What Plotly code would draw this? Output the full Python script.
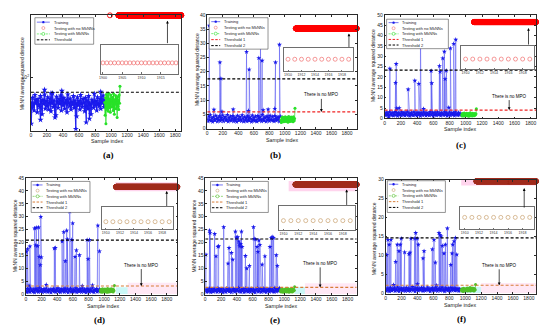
import math
import plotly.graph_objects as go

W, H = 550, 332
FONT = "Liberation Sans, Arial, sans-serif"
SERIF = "Liberation Serif, Times New Roman, serif"

# ======================= DATA =======================
SAMPLE_TICKS = [0, 200, 400, 600, 800, 1000, 1200, 1400, 1600, 1800]
TRAIN_STEP = 10
MKNN_START = 950
MKNN_STEP = 5

# ---- (a) (log scale) ----
a_train = [45, 38, 52, 41, 35, 57, 44, 48, 33, 50,
           42, 39, 55, 46, 31, 49, 43, 58, 37, 47,
           40, 53, 36, 45, 51, 34, 44, 60, 39, 48,
           42, 30, 54, 46, 38, 50, 43, 56, 35, 47,
           41, 52, 37, 45, 49, 33, 58, 44, 40, 51,
           36, 46, 42, 55, 38, 48, 44, 29, 53, 41,
           47, 36, 57, 43, 39, 50, 45, 34, 52, 40,
           48, 37, 55, 44, 42, 31, 49, 46, 38, 59,
           41, 47, 35, 53, 43, 40, 50, 37, 46, 44,
           56, 39, 48, 42, 45]
a_spike_x = [4, 120, 170, 250, 300, 385, 560, 690, 730, 870]
a_spike_y = [23, 26, 67, 60, 28, 65, 19.5, 24, 27, 63]
a_mknn_start = 920
a_mknn = [45, 30, 52, 23, 58, 40, 36, 55, 47, 34, 60, 42, 38, 50, 33, 57, 44, 48, 39, 53,
          41, 35, 59, 46, 31, 49, 43, 56, 37, 51, 45, 28, 54, 40, 48, 36, 57, 44, 75]
a_nomknn_level = 700
a_nomknn_start = 1090
a_nomknn_extra_x = [985]
a_threshold = 62

# ---- (b) ----
b_train = [3.4, 2.6, 4.3, 3.0, 4.8, 2.8, 3.7, 2.4, 4.1, 3.3,
           2.9, 4.6, 3.5, 2.5, 4.0, 3.1, 4.4, 2.7, 3.8, 3.2,
           4.7, 2.6, 3.6, 4.2, 2.9, 3.3, 4.9, 2.5, 3.9, 3.0,
           4.3, 2.8, 3.5, 4.5, 2.6, 3.7, 3.1, 4.0, 2.4, 4.6,
           3.4, 2.9, 4.2, 3.2, 2.7, 4.8, 3.6, 2.5, 4.1, 3.0,
           3.8, 2.6, 4.4, 3.3, 2.8, 4.0, 3.5, 2.4, 4.7, 3.1,
           3.9, 2.7, 4.3, 3.0, 2.5, 4.5, 3.6, 2.9, 4.1, 3.2,
           2.6, 4.9, 3.4, 2.8, 4.0, 3.7, 2.5, 4.4, 3.1, 3.8,
           2.7, 4.6, 3.3, 2.9, 4.2, 3.0, 2.6, 4.5, 3.5, 2.8,
           4.1, 3.2, 3.9, 2.5, 4.3]
b_spike_x = [26, 86, 163, 176, 190, 334, 506, 530, 540, 664, 686, 707, 720, 784, 870, 879, 930]
b_spike_y = [36.2, 6.7, 23.3, 17.6, 6.0, 6.8, 27.0, 6.3, 20.8, 24.8, 29.5, 23.9, 6.5, 6.8, 7.0, 23.3, 29.5]
b_mknn = [3.0, 2.2, 3.8, 2.6, 4.1, 2.9, 3.5, 2.4, 3.9, 3.1, 2.7, 4.2, 3.3, 2.5, 3.7, 2.8, 4.0, 3.2, 2.3,
          3.6, 4.3, 2.7, 3.4, 2.5, 3.9, 3.0, 4.1, 2.6, 3.5, 2.9, 3.8, 2.4, 4.2, 3.1, 2.8, 3.6, 7.2]
b_nomknn_level = 35.2
b_nomknn_start = 1140
b_threshold1 = 5.9
b_threshold2 = 17.5

# ---- (c) ----
c_train = [2.2, 1.4, 2.9, 1.7, 2.6, 1.2, 3.1, 1.9, 2.4, 1.5,
           2.8, 1.3, 2.0, 3.2, 1.6, 2.5, 1.1, 2.7, 1.8, 2.3,
           1.4, 3.0, 2.1, 1.6, 2.9, 1.3, 2.4, 1.9, 3.3, 1.5,
           2.6, 1.2, 2.2, 2.8, 1.7, 1.4, 3.1, 2.0, 1.6, 2.5,
           1.3, 2.9, 1.8, 2.3, 1.1, 2.7, 2.1, 1.5, 3.0, 1.9,
           2.4, 1.3, 2.8, 1.7, 2.2, 1.4, 3.2, 2.0, 1.6, 2.6,
           1.2, 2.9, 1.8, 2.5, 1.4, 3.0, 2.1, 1.7, 2.4, 1.3,
           2.7, 1.9, 2.2, 1.5, 3.1, 1.8, 2.6, 1.2, 2.3, 1.6,
           2.9, 1.4, 2.0, 2.7, 1.7, 2.5, 1.3, 3.0, 1.9, 2.2,
           1.5, 2.8, 1.8, 2.4, 1.6]
c_spike_x = [50, 65, 135, 143, 150, 180, 290, 372, 421, 442, 480, 573, 580, 675, 684, 716, 736, 745,
             760, 790, 810, 851, 876]
c_spike_y = [0.5, 24.0, 17.2, 26.3, 4.8, 5.0, 14.0, 18.2, 16.7, 40.0, 4.6, 22.9, 17.0, 25.3, 22.5, 29.0,
             32.2, 19.0, 23.0, 5.2, 33.8, 36.0, 38.0]
c_mknn = [1.8, 1.2, 2.4, 1.5, 2.0, 1.1, 2.6, 1.7, 1.3, 2.2, 1.9, 1.4, 2.5, 1.6, 2.1, 1.2, 2.3, 1.8, 1.0,
          2.4, 1.6, 2.7, 1.3, 2.0, 1.5, 2.2, 1.1, 2.5, 1.7, 1.4, 2.1, 1.3, 2.4, 1.6, 1.9, 2.2, 4.6]
c_nomknn_level = 46.5
c_nomknn_start = 1100
c_threshold1 = 4.0
c_threshold2 = 23.3

# ---- (d) ----
d_train = [1.5, 0.9, 2.2, 1.2, 1.9, 1.0, 2.4, 1.4, 1.7, 1.1,
           2.1, 0.8, 1.6, 2.3, 1.3, 1.8, 1.0, 2.5, 1.5, 1.2,
           2.0, 0.9, 1.7, 2.2, 1.1, 1.4, 2.4, 1.6, 1.0, 1.9,
           1.3, 2.1, 0.8, 1.8, 1.5, 2.3, 1.2, 1.6, 1.0, 2.0,
           1.4, 2.5, 1.1, 1.7, 0.9, 2.2, 1.5, 1.3, 1.9, 1.0,
           2.4, 1.6, 1.2, 2.1, 0.8, 1.8, 1.4, 2.3, 1.1, 1.7,
           1.0, 2.0, 1.5, 1.3, 2.5, 0.9, 1.9, 1.6, 1.2, 2.2,
           1.4, 1.0, 2.4, 1.7, 1.1, 2.0, 1.5, 0.8, 2.3, 1.3,
           1.8, 1.0, 2.1, 1.6, 1.2, 2.5, 1.4, 0.9, 1.9, 1.5,
           2.2, 1.1, 1.7, 1.3, 2.0]
d_spike_x = [4, 21, 40, 51, 111, 124, 132, 150, 162, 171, 184, 190, 197, 260, 363, 376, 462, 483, 504,
             521, 530, 560, 585, 598, 628, 645, 684, 720, 782, 795, 812, 850, 919, 940]
d_spike_y = [16.5, 17.5, 3.5, 18.6, 25.5, 19.0, 25.8, 18.7, 25.9, 14.6, 11.4, 30.0, 14.4, 3.8, 17.8, 18.0,
             20.5, 24.1, 12.9, 24.7, 21.3, 32.0, 21.1, 27.5, 14.6, 17.1, 15.2, 3.4, 21.1, 13.7, 21.1,
             3.6, 26.6, 16.7]
d_mknn = [1.5, 1.0, 2.1, 1.3, 1.8, 0.9, 2.3, 1.4, 1.1, 2.0, 1.6, 1.2, 2.2, 1.4, 1.9, 1.0, 2.1, 1.5, 0.9,
          2.4, 1.3, 1.7, 1.0, 2.0, 1.5, 2.2, 1.1, 1.8, 1.4, 2.3, 1.2, 1.6, 2.0, 1.0, 1.9, 1.5, 3.5]
d_nomknn_level = 41.5
d_nomknn_start = 1150
d_threshold1 = 3.3
d_threshold2 = 21.0

# ---- (e) ----
e_train = [1.3, 2.0, 1.0, 1.8, 1.2, 2.4, 1.5, 0.9, 2.1, 1.6,
           1.1, 2.3, 1.7, 1.3, 1.9, 1.0, 2.5, 1.4, 1.8, 1.1,
           2.2, 1.6, 0.8, 2.0, 1.3, 1.7, 1.0, 2.4, 1.5, 1.9,
           1.2, 2.1, 1.4, 0.9, 1.8, 1.6, 2.3, 1.1, 1.7, 1.3,
           2.0, 1.5, 2.6, 1.2, 1.8, 1.0, 1.9, 1.4, 2.2, 0.9,
           1.6, 2.4, 1.3, 1.7, 1.1, 2.1, 1.5, 1.0, 2.3, 1.8,
           1.2, 2.0, 1.4, 0.8, 1.9, 1.6, 2.5, 1.1, 1.7, 1.3,
           2.2, 1.0, 1.8, 1.5, 2.4, 1.2, 1.6, 0.9, 2.1, 1.4,
           1.9, 1.1, 2.3, 1.7, 1.3, 2.0, 1.5, 1.0, 2.6, 1.8,
           1.2, 2.2, 1.4, 1.9, 2.5]
e_spike_x = [8, 55, 60, 119, 136, 161, 169, 233, 288, 301, 331, 347, 381, 394, 411, 424, 432, 436, 449,
             458, 466, 508, 525, 559, 610, 619, 636, 657, 665, 678, 691, 720, 754, 818, 835, 847, 864,
             898, 911]
e_spike_y = [15.4, 24.7, 23.7, 23.4, 14.8, 18.4, 18.7, 26.0, 12.0, 18.0, 16.1, 13.5, 24.3, 22.0, 22.2,
             20.5, 19.4, 18.6, 19.6, 24.3, 18.4, 14.9, 10.1, 11.1, 26.0, 21.5, 21.3, 18.4, 16.5, 20.9,
             19.2, 11.6, 14.8, 18.4, 21.9, 22.2, 21.9, 15.2, 11.1]
e_mknn = [1.3, 1.9, 1.0, 1.7, 1.2, 2.2, 1.5, 0.9, 1.8, 1.4, 2.0, 1.1, 1.6, 2.3, 1.3, 1.8, 1.0, 2.1, 1.5,
          2.4, 1.2, 1.7, 0.9, 2.0, 1.4, 2.2, 1.1, 1.8, 1.6, 2.3, 1.0, 1.9, 1.3, 2.1, 1.5, 1.7, 3.0]
e_nomknn_level = 42.4
e_nomknn_start = 1140
e_threshold1 = 2.8
e_threshold2 = 21.4

# ---- (f) ----
f_train = [1.0, 0.7, 1.4, 0.9, 1.2, 0.6, 1.6, 1.1, 0.8, 1.3,
           1.0, 1.5, 0.7, 1.2, 0.9, 1.7, 1.1, 0.6, 1.4, 1.0,
           1.3, 0.8, 1.5, 0.9, 1.1, 0.7, 1.6, 1.2, 0.8, 1.4,
           1.0, 0.7, 1.3, 1.1, 1.8, 0.9, 1.2, 0.6, 1.5, 1.0,
           1.3, 0.8, 1.4, 1.1, 0.9, 1.6, 1.2, 0.7, 1.5, 1.0,
           0.8, 1.3, 1.1, 1.7, 0.9, 1.2, 0.6, 1.4, 1.0, 1.5,
           0.8, 1.2, 0.9, 1.6, 1.1, 0.7, 1.3, 1.0, 1.4, 0.8,
           1.2, 1.7, 0.9, 1.1, 0.6, 1.5, 1.0, 1.3, 0.8, 1.4,
           1.1, 0.7, 1.6, 0.9, 1.2, 1.0, 1.5, 0.8, 1.3, 1.1,
           0.9, 1.4, 0.7, 1.2, 1.0]
f_spike_x = [13, 29, 46, 67, 100, 126, 147, 168, 185, 197, 239, 294, 306, 319, 365, 378, 399, 400, 411,
             470, 483, 587, 608, 625, 640, 671, 684, 697, 713, 734, 751, 776, 818, 835, 843, 860, 877, 894]
f_spike_y = [10.2, 14.2, 12.9, 14.2, 2.3, 8.4, 12.9, 11.2, 12.9, 14.5, 10.9, 10.4, 10.8, 14.5, 14.5,
             16.0, 14.5, 2.5, 12.9, 9.3, 11.2, 11.7, 14.2, 8.2, 2.2, 16.0, 15.5, 15.1, 12.6, 10.6, 12.9,
             17.2, 7.6, 10.6, 12.9, 13.8, 14.7, 10.3]
f_mknn = [1.0, 0.7, 1.3, 0.8, 1.2, 0.6, 1.4, 0.9, 1.1, 0.7, 1.3, 1.0, 0.8, 1.2, 0.9, 1.5, 0.7, 1.1, 1.4,
          0.8, 1.2, 1.0, 1.6, 0.7, 1.3, 0.9, 1.1, 1.5, 0.8, 1.2, 1.0, 1.4, 0.7, 1.3, 0.9, 1.1, 2.4]
f_nomknn_level = 29.6
f_nomknn_start = 1140
f_threshold1 = 2.2
f_threshold2 = 14.7

NOMKNN_END = 1920
LEGEND_A = ["Training", "Testing with no MkNNs", "Testing with MkNNs", "Threshold"]
LEGEND_BF = ["Training", "Testing with no MkNNs", "Testing with MkNNs", "Threshold 1", "Threshold 2"]

# ======================= STYLE =======================
BLUE = "rgb(25,25,235)"
GREEN_AC = "rgb(40,225,40)"
GREEN_DF = "rgb(80,190,40)"
RED = "rgb(255,0,0)"
RED_INSET = "rgb(240,110,110)"
DARKRED = "rgb(160,42,28)"
TAN = "rgb(200,160,110)"
ORANGE = "rgb(215,125,55)"
THR_RED = "rgb(240,35,35)"
AX = "#2a2a2a"


def merge(base, step, sx, sy):
    pts = [(i * step, v) for i, v in enumerate(base)] + list(zip(sx, sy))
    pts.sort()
    return [q[0] for q in pts], [q[1] for q in pts]


def fx(p):
    return p / W


def fy(p):
    return 1 - p / H


panels = [
    dict(box=(29, 180, 12, 130), xmax=1875, log=True, yrange=[math.log10(18.5), math.log10(712)],
         ytickvals=[100], yticktext=["10<sup>2</sup>"],
         train=merge(a_train, TRAIN_STEP, a_spike_x, a_spike_y), tline="rgb(35,35,240)", tw=1.3, ms=4.6,
         mknn=(a_mknn, a_mknn_start), gw=1.1,
         nom=(a_nomknn_level, a_nomknn_extra_x + list(range(a_nomknn_start, NOMKNN_END + 1))),
         thr=[(a_threshold, "black")], style="ac", legend=LEGEND_A,
         inset=(99, 177, 43, 72), inset_range=[1899.4, 1919.6], inset_ticks=[1900, 1905, 1910, 1915],
         inset_frac=0.38,
         up=(1702, math.log10(592), 24), mpo=None,
         leg=dict(box=(33, 15, 92, 42), g=(35, 48), tx=50.5, y0=19.5, dy=6.0),
         ytitle=(19.5, 72), xtitle=(105, 141), label=("(a)", 107, 155), hl=[]),
    dict(box=(206, 356, 12, 128), xmax=1925, log=False, yrange=[0, 40],
         ytickvals=list(range(0, 41, 5)), yticktext=None,
         train=merge(b_train, TRAIN_STEP, b_spike_x, b_spike_y), tline="rgba(70,70,240,0.7)", tw=0.7, ms=3.8,
         mknn=(b_mknn, MKNN_START), gw=0.7,
         nom=(b_nomknn_level, list(range(b_nomknn_start, NOMKNN_END + 6))),
         thr=[(b_threshold1, THR_RED), (b_threshold2, "black")], style="ac", legend=LEGEND_BF,
         inset=(283, 352, 46, 69), inset_range=[1909.4, 1919.6], inset_ticks=[1910, 1912, 1914, 1916, 1918],
         inset_frac=0.51,
         up=(1825, 33.4, 15), mpo=(1470, b_threshold1, -17),
         leg=dict(box=(208, 15, 267, 47), g=(210, 219), tx=220.5, y0=19, dy=6.1),
         ytitle=(195, 68), xtitle=(281, 139.5), label=("(b)", 274, 155), hl=[]),
    dict(box=(384, 536, 12, 117.5), xmax=1865, log=False, yrange=[0, 50],
         ytickvals=list(range(0, 51, 5)), yticktext=None,
         train=merge(c_train, TRAIN_STEP, c_spike_x, c_spike_y), tline="rgba(70,70,240,0.7)", tw=0.7, ms=3.8,
         mknn=(c_mknn, MKNN_START), gw=0.7,
         nom=(c_nomknn_level, list(range(c_nomknn_start, NOMKNN_END + 1))),
         thr=[(c_threshold1, THR_RED), (c_threshold2, "black")], style="ac", legend=LEGEND_BF,
         inset=(461, 534, 44, 67), inset_range=[1909.4, 1919.6], inset_ticks=[1910, 1912, 1914, 1916, 1918],
         inset_frac=0.43,
         up=(1772, 43.6, 18), mpo=(1534, c_threshold1, -14),
         leg=dict(box=(386, 16.5, 448, 46.5), g=(388, 398), tx=399.5, y0=20, dy=5.7),
         ytitle=(372.5, 64), xtitle=(460, 128.5), label=("(c)", 461, 145), hl=[]),
    dict(box=(24, 176, 178, 297), xmax=1935, log=False, yrange=[0, 45],
         ytickvals=list(range(0, 46, 5)), yticktext=None,
         train=merge(d_train, TRAIN_STEP, d_spike_x, d_spike_y), tline="rgba(70,70,240,0.7)", tw=0.7, ms=3.8,
         mknn=(d_mknn, MKNN_START), gw=0.7,
         nom=(d_nomknn_level, list(range(d_nomknn_start, 1936))),
         thr=[(d_threshold1, ORANGE), (d_threshold2, "black")], style="df", legend=LEGEND_BF,
         inset=(100, 172, 208, 230), inset_range=[1909.4, 1919.6], inset_ticks=[1910, 1912, 1914, 1916, 1918],
         inset_frac=0.33,
         up=(1799, 39.9, 16.5), mpo=(1474, d_threshold1, -21),
         leg=dict(box=(29.3, 181.7, 88.3, 213.3), g=(30.7, 40.7), tx=42, y0=185.3, dy=5.8),
         ytitle=(12.5, 237), xtitle=(101, 308.5), label=("(d)", 98, 323),
         hl=[(1140, 1935, 39.8, 43.3, "rgba(255,160,215,0.45)"), (1150, 1300, 0.2, 2.8, "rgba(150,240,240,0.5)"),
             (1300, 1935, 0.2, 4.6, "rgba(255,190,225,0.35)")]),
    dict(box=(204, 356, 178, 297), xmax=1915, log=False, yrange=[0, 45],
         ytickvals=list(range(0, 46, 5)), yticktext=None,
         train=merge(e_train, TRAIN_STEP, e_spike_x, e_spike_y), tline="rgba(70,70,240,0.7)", tw=0.7, ms=3.8,
         mknn=(e_mknn, MKNN_START), gw=0.7,
         nom=(e_nomknn_level, list(range(e_nomknn_start, NOMKNN_END + 1))),
         thr=[(e_threshold1, ORANGE), (e_threshold2, "black")], style="df", legend=LEGEND_BF,
         inset=(278, 354, 207, 231), inset_range=[1909.4, 1919.6], inset_ticks=[1910, 1912, 1914, 1916, 1918],
         inset_frac=0.39,
         up=(1788, 40.5, 17), mpo=(1453, e_threshold1, -24),
         leg=dict(box=(209.3, 181.7, 267.3, 213.3), g=(210.7, 221.7), tx=223, y0=185.3, dy=5.8),
         ytitle=(192.5, 237), xtitle=(280, 308.5), label=("(e)", 274, 323),
         hl=[(1055, 1915, 39.8, 43.8, "rgba(255,160,215,0.45)"), (1130, 1260, 0.2, 2.9, "rgba(150,240,240,0.5)"),
             (1260, 1915, 0.2, 4.4, "rgba(255,190,225,0.35)")]),
    dict(box=(385, 536, 180, 296), xmax=1890, log=False, yrange=[0, 30],
         ytickvals=list(range(0, 31, 5)), yticktext=None,
         train=merge(f_train, TRAIN_STEP, f_spike_x, f_spike_y), tline="rgba(70,70,240,0.7)", tw=0.7, ms=3.8,
         mknn=(f_mknn, MKNN_START), gw=0.7,
         nom=(f_nomknn_level, list(range(f_nomknn_start, NOMKNN_END + 1))),
         thr=[(f_threshold1, ORANGE), (f_threshold2, "black")], style="df", legend=LEGEND_BF,
         inset=(460, 534, 208, 230), inset_range=[1909.4, 1919.6], inset_ticks=[1910, 1912, 1914, 1916, 1918],
         inset_frac=0.53,
         up=(1741, 27.8, 21), mpo=(1427, f_threshold1, -20),
         leg=dict(box=(386.7, 181, 445, 213.3), g=(388.3, 397.7), tx=399, y0=184.6, dy=5.9),
         ytitle=(373, 240), xtitle=(460, 307.5), label=("(f)", 461, 322),
         hl=[(950, 1890, 28.5, 30.0, "rgba(255,160,215,0.45)"), (950, 1200, 0.15, 1.8, "rgba(150,240,240,0.5)"),
             (1200, 1890, 0.15, 2.8, "rgba(255,190,225,0.35)")]),
]

fig = go.Figure()
layout = dict(width=W, height=H, margin=dict(l=0, r=0, t=0, b=0), paper_bgcolor="white",
              plot_bgcolor="white", showlegend=False)
shapes = []
annotations = []

for i, p in enumerate(panels):
    k = i + 1
    j = i + 7
    xa = "x" if k == 1 else f"x{k}"
    ya = "y" if k == 1 else f"y{k}"
    xi, yi = f"x{j}", f"y{j}"
    L, R, T, B = p["box"]
    df = p["style"] == "df"
    green = GREEN_DF if df else GREEN_AC
    nomc = DARKRED if df else RED
    nomi = TAN if df else RED_INSET

    for (x0, x1, y0, y1, col) in p["hl"]:
        shapes.append(dict(type="rect", xref=xa, yref=ya, x0=x0, x1=x1, y0=y0, y1=y1,
                           fillcolor=col, line=dict(width=0), layer="below"))

    tx, ty = p["train"]
    fig.add_trace(go.Scatter(x=tx, y=ty, xaxis=xa, yaxis=ya, mode="lines+markers",
                             line=dict(color=p["tline"], width=p["tw"]),
                             marker=dict(symbol="star", size=p["ms"], color=BLUE, line=dict(width=0))))
    lev, nx = p["nom"]
    fig.add_trace(go.Scatter(x=nx, y=[lev] * len(nx), xaxis=xa, yaxis=ya, mode="markers",
                             cliponaxis=False,
                             marker=dict(symbol="circle-open", size=5, color=nomc, line=dict(width=0.9))))
    mv, m0 = p["mknn"]
    mx = [m0 + MKNN_STEP * n for n in range(len(mv))]
    fig.add_trace(go.Scatter(x=mx, y=mv, xaxis=xa, yaxis=ya, mode="lines+markers",
                             line=dict(color=green, width=p["gw"]),
                             marker=dict(symbol="circle", size=3, color=green)))
    for (tv, col) in p["thr"]:
        fig.add_trace(go.Scatter(x=[0, p["xmax"]], y=[tv, tv], xaxis=xa, yaxis=ya, mode="lines",
                                 line=dict(color=col, width=1.1, dash="3px,2px")))
    fig.add_trace(go.Scatter(x=nx, y=[lev] * len(nx), xaxis=xi, yaxis=yi, mode="markers",
                             marker=dict(symbol="circle-open", size=4, color=nomi, line=dict(width=0.7))))

    axcommon = dict(showline=True, linecolor=AX, linewidth=0.6, mirror="ticks", ticks="inside",
                    ticklen=2, tickwidth=0.5, tickcolor=AX, showgrid=False, zeroline=False,
                    tickfont=dict(size=5, color="#222", family=FONT))
    layout["xaxis" if k == 1 else f"xaxis{k}"] = dict(
        axcommon, domain=[fx(L), fx(R)], range=[0, p["xmax"]], anchor=ya, tickvals=SAMPLE_TICKS)
    ykw = dict(axcommon, domain=[fy(B), fy(T)], range=p["yrange"], anchor=xa, tickvals=p["ytickvals"])
    if p["log"]:
        ykw["type"] = "log"
    if p["yticktext"]:
        ykw["ticktext"] = p["yticktext"]
    layout["yaxis" if k == 1 else f"yaxis{k}"] = ykw

    iL, iR, iT, iB = p["inset"]
    icommon = dict(showline=True, linecolor="rgb(110,110,110)", linewidth=0.5, mirror=True,
                   showgrid=False, zeroline=False)
    layout[f"xaxis{j}"] = dict(icommon, domain=[fx(iL), fx(iR)], range=p["inset_range"], anchor=yi,
                               tickvals=p["inset_ticks"], ticks="inside", ticklen=1.5, tickwidth=0.4,
                               tickcolor="rgb(110,110,110)",
                               tickfont=dict(size=3.6, color="#333", family=FONT))
    span = 10.0
    fr = p["inset_frac"]
    layout[f"yaxis{j}"] = dict(icommon, domain=[fy(iB), fy(iT)], range=[lev - fr * span, lev + (1 - fr) * span],
                               anchor=xi, showticklabels=False, ticks="")

    ux, uy, ulen = p["up"]
    annotations.append(dict(xref=xa, yref=ya, x=ux, y=uy, ax=0, ay=ulen, text="", showarrow=True,
                            arrowhead=2, arrowsize=0.8, arrowwidth=0.7, arrowcolor="black", standoff=0))
    if p["mpo"]:
        mxp, myp, mlen = p["mpo"]
        annotations.append(dict(xref=xa, yref=ya, x=mxp, y=myp, ax=0, ay=mlen, text="There is no MPO",
                                showarrow=True, arrowhead=2, arrowsize=0.8, arrowwidth=0.7,
                                arrowcolor="black", standoff=0, font=dict(size=4.5, family=FONT, color="black")))

    cx, cy = p["ytitle"]
    annotations.append(dict(xref="paper", yref="paper", x=fx(cx), y=fy(cy), text="MkNN average squared distance",
                            textangle=-90, showarrow=False, xanchor="center", yanchor="middle",
                            font=dict(size=5, family=FONT, color="#222")))
    cx, cy = p["xtitle"]
    annotations.append(dict(xref="paper", yref="paper", x=fx(cx), y=fy(cy), text="Sample index",
                            showarrow=False, xanchor="center", yanchor="middle",
                            font=dict(size=5.3, family=FONT, color="#222")))
    lab, cx, cy = p["label"]
    annotations.append(dict(xref="paper", yref="paper", x=fx(cx), y=fy(cy), text=f"<b>{lab}</b>",
                            showarrow=False, xanchor="center", yanchor="middle",
                            font=dict(size=9, family=SERIF, color="black")))

    lg = p["leg"]
    bx0, by0, bx1, by1 = lg["box"]
    shapes.append(dict(type="rect", xref="paper", yref="paper", x0=fx(bx0), x1=fx(bx1), y0=fy(by1), y1=fy(by0),
                       line=dict(color=AX, width=0.5), fillcolor="white", layer="above"))
    g0, g1 = lg["g"]
    gm = (g0 + g1) / 2
    for n, name in enumerate(p["legend"]):
        yy = lg["y0"] + n * lg["dy"]
        if name == "Training":
            shapes.append(dict(type="line", xref="paper", yref="paper", x0=fx(g0), x1=fx(g1), y0=fy(yy), y1=fy(yy),
                               line=dict(color=BLUE, width=0.6), layer="above"))
            shapes.append(dict(type="circle", xref="paper", yref="paper", x0=fx(gm - 1.2), x1=fx(gm + 1.2),
                               y0=fy(yy + 1.2), y1=fy(yy - 1.2), fillcolor=BLUE, line=dict(width=0), layer="above"))
        elif name == "Testing with no MkNNs":
            shapes.append(dict(type="circle", xref="paper", yref="paper", x0=fx(gm - 1.5), x1=fx(gm + 1.5),
                               y0=fy(yy + 1.5), y1=fy(yy - 1.5), line=dict(color=nomi, width=0.6), layer="above"))
        elif name == "Testing with MkNNs":
            shapes.append(dict(type="line", xref="paper", yref="paper", x0=fx(g0), x1=fx(g1), y0=fy(yy), y1=fy(yy),
                               line=dict(color=green, width=0.6, dash="2px,1px"), layer="above"))
            shapes.append(dict(type="circle", xref="paper", yref="paper", x0=fx(gm - 1.5), x1=fx(gm + 1.5),
                               y0=fy(yy + 1.5), y1=fy(yy - 1.5), line=dict(color=green, width=0.6),
                               fillcolor="white", layer="above"))
        else:
            col = (ORANGE if df else THR_RED) if name == "Threshold 1" else "black"
            shapes.append(dict(type="line", xref="paper", yref="paper", x0=fx(g0), x1=fx(g1), y0=fy(yy), y1=fy(yy),
                               line=dict(color=col, width=1.0, dash="2.5px,1.5px"), layer="above"))
        annotations.append(dict(xref="paper", yref="paper", x=fx(lg["tx"]), y=fy(yy), text=name,
                                showarrow=False, xanchor="left", yanchor="middle",
                                font=dict(size=4, family=FONT, color="#222")))

layout["shapes"] = shapes
layout["annotations"] = annotations
fig.update_layout(**layout)
fig.write_html("out.html", config={"displayModeBar": False},
               post_script="document.body.style.margin='0';document.body.style.overflow='hidden';")
